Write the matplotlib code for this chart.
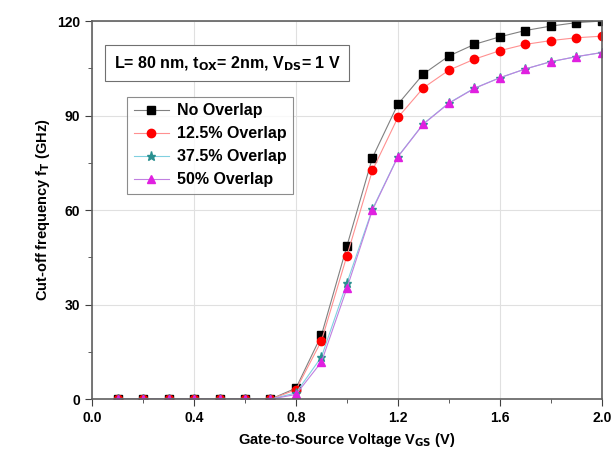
import numpy as np
import matplotlib.pyplot as plt

plt.rcParams['font.family'] = ['Liberation Sans', 'DejaVu Sans']
plt.rcParams['font.weight'] = 'bold'
plt.rcParams['mathtext.default'] = 'bf'

vgs = [0.1, 0.2, 0.3, 0.4, 0.5, 0.6, 0.7, 0.8, 0.9, 1.0,
       1.1, 1.2, 1.3, 1.4, 1.5, 1.6, 1.7, 1.8, 1.9, 2.0]
no_overlap = [0, 0, 0, 0, 0, 0, 0, 3.5, 20.3, 48.6,
              76.6, 93.6, 103.2, 108.9, 112.6, 115.0, 117.0, 118.4, 119.5, 120.0]
ov_125 = [0, 0, 0, 0, 0, 0, 0, 3.0, 18.5, 45.5,
          72.6, 89.4, 98.8, 104.4, 107.9, 110.6, 112.6, 113.8, 114.7, 115.2]
ov_375 = [0, 0, 0, 0, 0, 0, 0, 2.0, 13.4, 36.9,
          60.3, 77.0, 87.4, 94.0, 98.7, 102.0, 104.8, 107.1, 108.7, 110.0]
ov_50 = [0, 0, 0, 0, 0, 0, 0, 1.5, 11.8, 35.2,
         60.0, 76.9, 87.3, 93.9, 98.6, 102.0, 104.8, 107.1, 108.7, 110.0]

fig = plt.figure(figsize=(6.14, 4.68), dpi=100)
ax = fig.add_axes([0.150, 0.147, 0.830, 0.808])

ax.plot(vgs, no_overlap, color='#808080', lw=0.8, marker='s', ms=5.5,
        mfc='black', mec='black', label='No Overlap')
ax.plot(vgs, ov_125, color='#ff9090', lw=0.8, marker='o', ms=6,
        mfc='#ff0000', mec='#ff0000', label='12.5% Overlap')
ax.plot(vgs, ov_375, color='#80d0e0', lw=0.8, marker='*', ms=6.5,
        mfc='#2a9090', mec='#2a9090', label='37.5% Overlap')
ax.plot(vgs, ov_50, color='#c080e0', lw=0.8, marker='^', ms=6,
        mfc='#e020e0', mec='#e020e0', label='50% Overlap')

ax.set_xlim(0, 2.0)
ax.set_ylim(0, 120)
ax.set_xticks(np.arange(0, 2.01, 0.4))
ax.set_xticks(np.arange(0, 2.01, 0.2), minor=True)
ax.set_yticks([0, 30, 60, 90, 120])
ax.set_yticks([15, 45, 75, 105], minor=True)
ax.grid(True, which='major', color='#e0e0e0', lw=0.8)
ax.tick_params(which='both', direction='out', labelsize=10, color='#404040')
ax.tick_params(which='major', length=5)
ax.tick_params(which='minor', length=3)
for lab in ax.get_xticklabels() + ax.get_yticklabels():
    lab.set_fontweight('bold')
for s in ax.spines.values():
    s.set_color('#606060')
    s.set_linewidth(1.2)

ax.set_xlabel('Gate-to-Source Voltage V$_{GS}$ (V)', fontsize=10.5, fontweight='bold')
ax.set_ylabel('Cut-off frequency f$_T$ (GHz)', fontsize=10.5, fontweight='bold')

ax.text(0.042, 0.888, 'L= 80 nm, t$_{OX}$= 2nm, V$_{DS}$= 1 V', transform=ax.transAxes,
        fontsize=11.5, fontweight='bold', va='center', ha='left',
        bbox=dict(boxstyle='square,pad=0.55', fc='white', ec='#707070', lw=0.8))

leg = ax.legend(loc='upper left', bbox_to_anchor=(0.069, 0.799), borderaxespad=0,
                fontsize=11.5, frameon=True, fancybox=False, edgecolor='#707070',
                handlelength=2.2, handletextpad=0.5, borderpad=0.4, labelspacing=0.5)
leg.get_frame().set_linewidth(0.8)
for t in leg.get_texts():
    t.set_fontweight('bold')

plt.savefig('out.png', dpi=100)
